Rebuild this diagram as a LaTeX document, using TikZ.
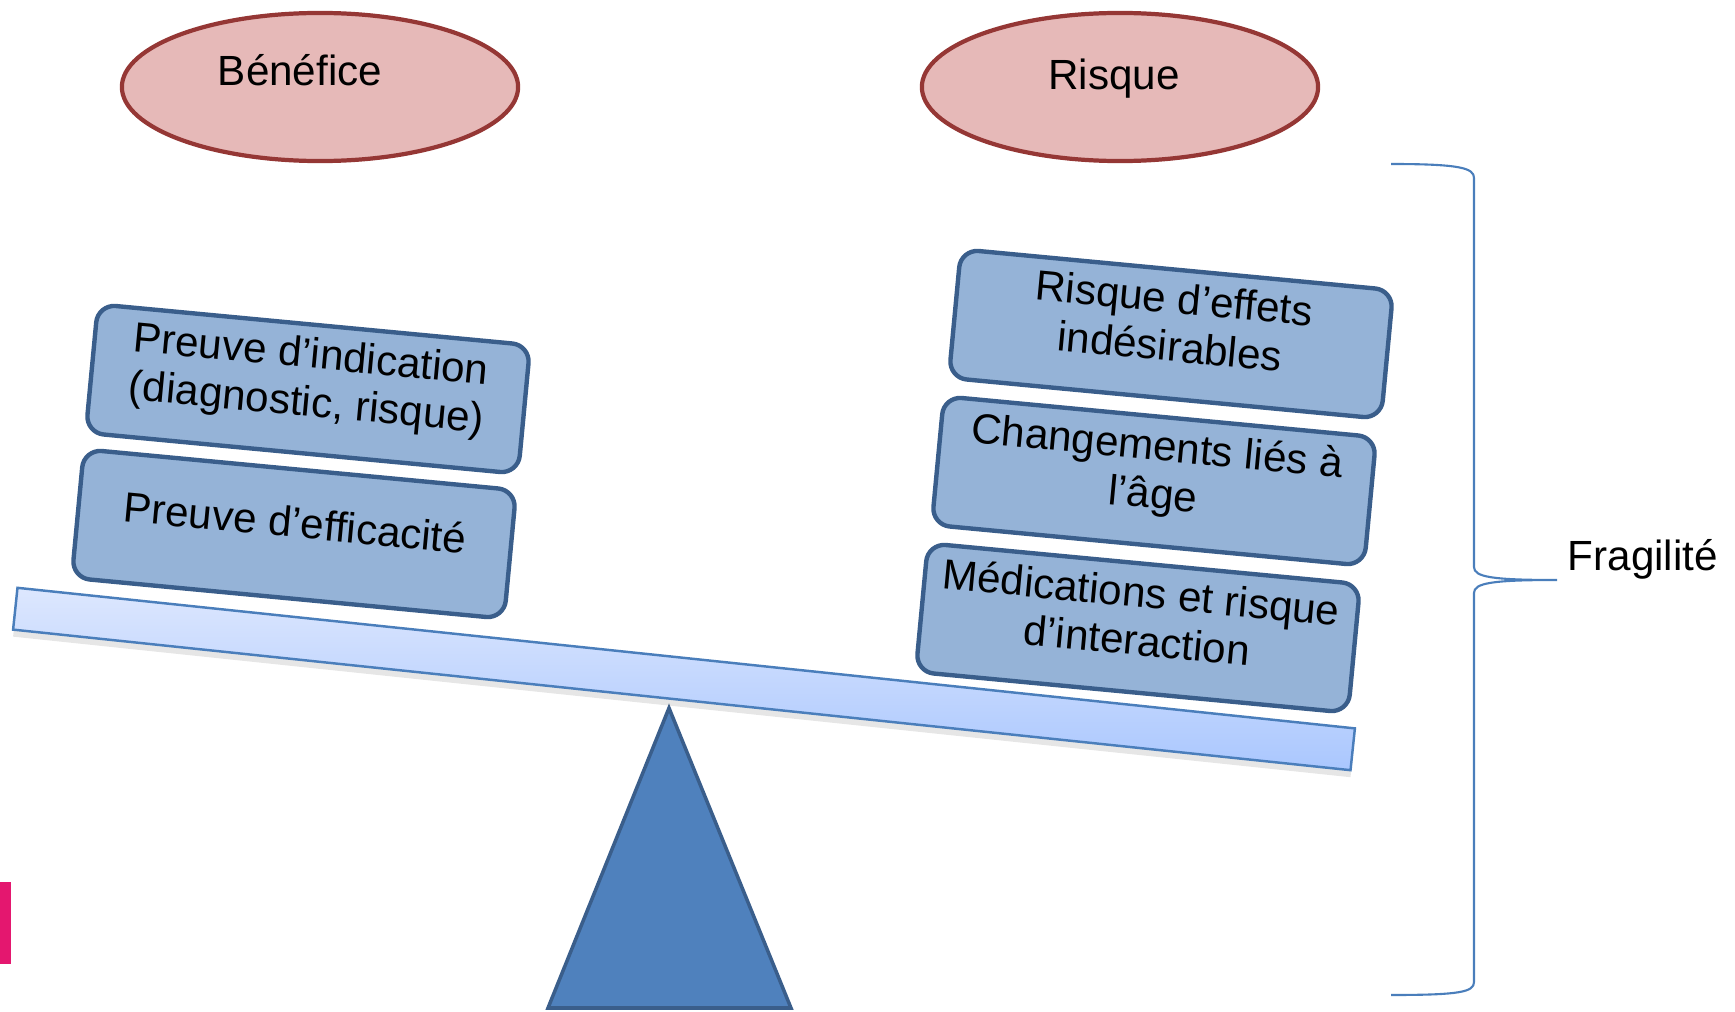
\documentclass[tikz,border=0pt]{standalone}
\usepackage{fontspec}
\setmainfont{Liberation Sans}
\usepackage{xcolor}
\usetikzlibrary{shapes.geometric,shadows}

\definecolor{bullefill}{HTML}{E6B9B8}
\definecolor{bulleborder}{HTML}{953735}
\definecolor{poidsfill}{HTML}{95B3D7}
\definecolor{poidsborder}{HTML}{3A5E8B}
\definecolor{pivotfill}{HTML}{4F81BD}
\definecolor{fleauborder}{HTML}{4A7EBB}
\definecolor{fleauhaut}{HTML}{DDE7FE}
\definecolor{fleaubas}{HTML}{AAC7FE}
\definecolor{accolade}{HTML}{4A7EBB}
\definecolor{marque}{HTML}{E4176F}

\begin{document}
\begin{tikzpicture}[x=0.01cm, y=-0.01cm,
  bulle/.style={ellipse, draw=bulleborder, fill=bullefill, line width=1.2pt, minimum width=3.96cm, minimum height=1.48cm},
  titre/.style={font=\fontsize{12}{14}\selectfont, anchor=base, inner sep=0pt},
  poids/.style={draw=poidsborder, fill=poidsfill, line width=1.25pt, rounded corners=0.18cm, minimum width=4.34cm, minimum height=1.29cm, rotate=-5.4, align=center, font=\fontsize{12}{13.7}\selectfont, execute at end node=\rule[-7pt]{0pt}{0pt}},
  fleau/.style={draw=fleauborder, line width=0.7pt, top color=fleauhaut, bottom color=fleaubas, minimum width=13.44cm, minimum height=0.42cm, rotate=-6, drop shadow={opacity=0.2, shadow xshift=0pt, shadow yshift=-2pt}},
  pivot/.style={draw=poidsborder, fill=pivotfill, line width=1pt, line join=miter}]
  \useasboundingbox (0,0) rectangle (1735,1012);

  % the two sides
  \node[bulle] (benefice) at (320,87) {};
  \node[titre] (beneficetxt) at (300,86) {Bénéfice};
  \node[bulle] (risque) at (1120,87) {};
  \node[titre] (risquetxt) at (1114,90) {Risque};

  % balance
  \draw[pivot] (669,708) -- (791,1008) -- (548,1008) -- cycle;
  \node[fleau] (fleau) at (684,679) {};

  % left pan
  \node[poids] (indication) at (308,389) {Preuve d’indication\\(diagnostic, risque)};
  \node[poids] (efficacite) at (294,534) {Preuve d’efficacité};

  % right pan
  \node[poids] (effets) at (1171,334) {Risque d’effets\\indésirables};
  \node[poids] (changements) at (1154,481) {Changements liés à\\l’âge};
  \node[poids] (medications) at (1138,628) {Médications et risque\\d’interaction};

  % fragility brace
  \draw[accolade, line width=0.6pt] (1391,164) .. controls (1460,164) and (1474,168) .. (1474,178)
    -- (1474,567) .. controls (1474,577) and (1492,580) .. (1557,580)
    .. controls (1492,580) and (1474,583) .. (1474,593)
    -- (1474,982) .. controls (1474,992) and (1460,995) .. (1391,995);
  \node[titre, anchor=base west] (fragilite) at (1567,570) {Fragilité};

  \fill[marque] (0,882) rectangle (11,964);
\end{tikzpicture}
\end{document}
